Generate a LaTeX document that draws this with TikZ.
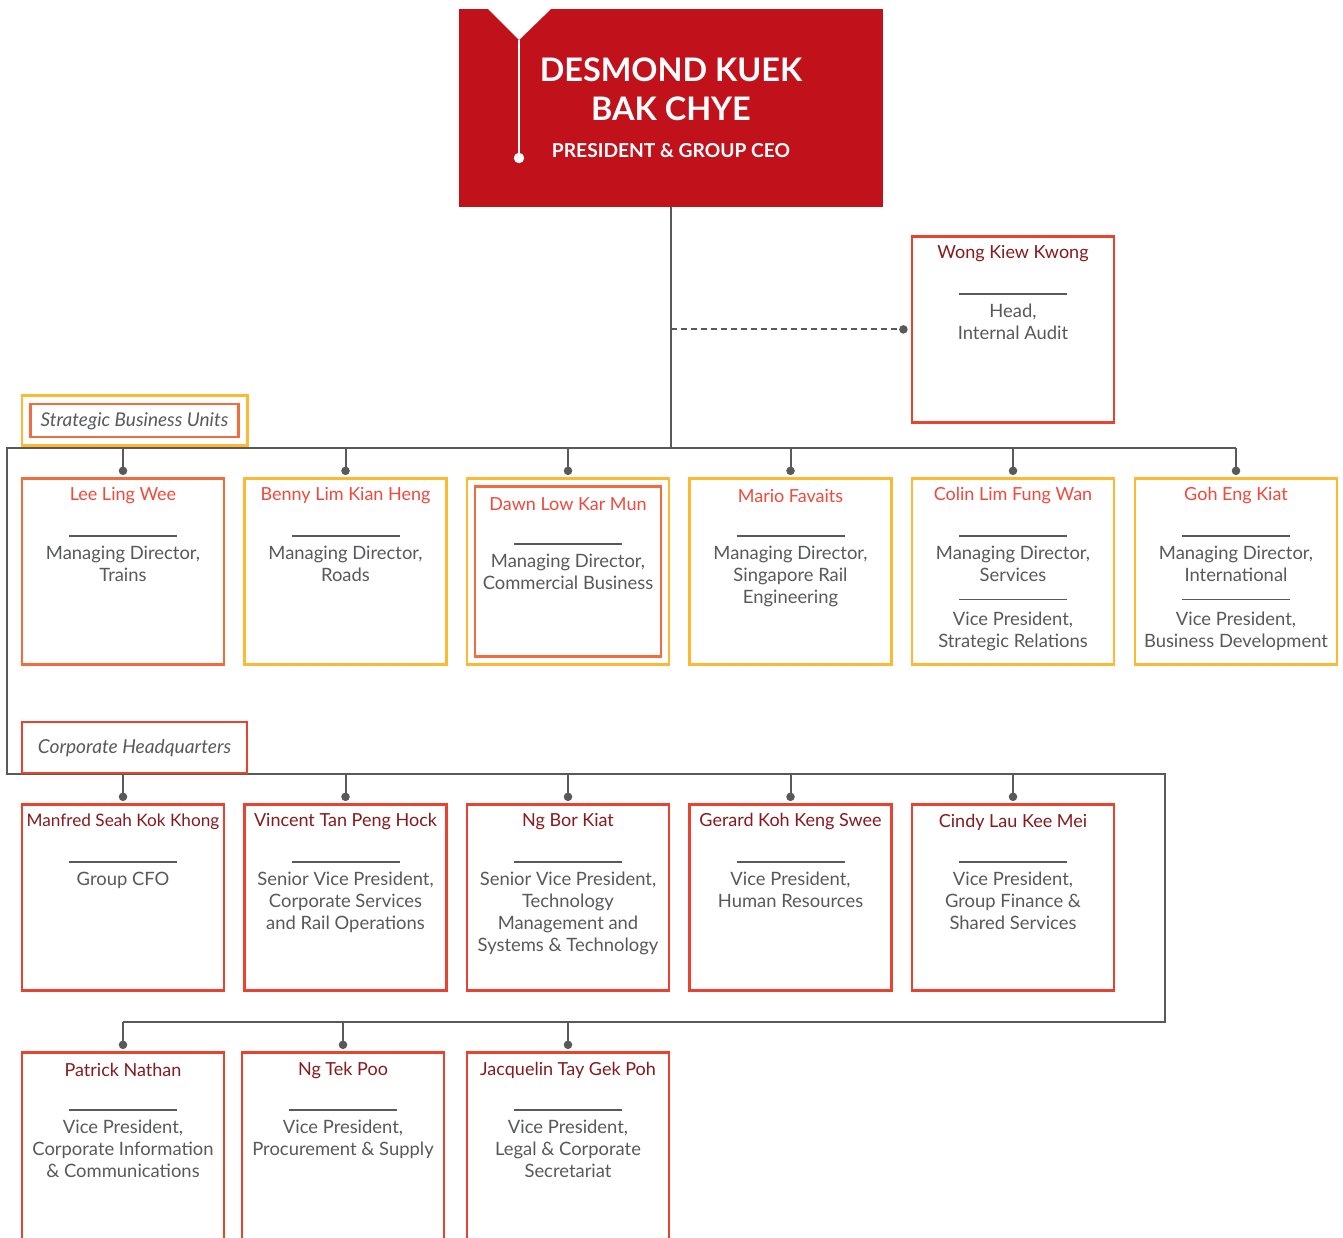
\documentclass[tikz,border=0pt]{standalone}
\usepackage{fontspec}
\setmainfont{Lato}
\usepackage{tikz}
\usetikzlibrary{arrows.meta,positioning}
\definecolor{ceored}{HTML}{C1121C}
\definecolor{boxred}{HTML}{E9422E}
\definecolor{sbuorange}{HTML}{F26D3D}
\definecolor{sbuyellow}{HTML}{FDB933}
\definecolor{namered}{HTML}{EF4A3C}
\definecolor{namedark}{HTML}{861A1E}
\definecolor{textgray}{HTML}{58595B}
\definecolor{linkgray}{HTML}{58595B}
\newcommand{\subrule}{{\color{linkgray}\rule[1.5pt]{54pt}{0.6pt}}}
% box: id, top centre, box style, name style, name, title
\newcommand{\orgbox}[6]{%
  \node[#3] (#1) at (#2) {};
  \node[#4] (#1-name) at ([yshift=-9.5pt]#1.north) {#5};
  \draw[rulestyle] ([shift={(-27pt,-29.5pt)}]#1.north) -- ([shift={(27pt,-29.5pt)}]#1.north);
  \node[titlestyle] (#1-title) at ([yshift=-34.5pt]#1.north) {#6};
}
\tikzset{
  link/.style={draw=linkgray, line width=1pt},
  drop/.style={link, -{Circle[length=4.2pt]}},
  rulestyle/.style={draw=linkgray, line width=0.6pt},
  box/.style={fill=white, line width=1.4pt, minimum width=101pt,
    minimum height=93pt, anchor=north, inner sep=0pt},
  sbubox/.style={box, draw=sbuyellow},
  sbuobox/.style={box, draw=sbuorange},
  chqbox/.style={box, draw=boxred},
  namesbu/.style={inner sep=0pt, text=namered, font=\fontsize{9}{11}\selectfont},
  namechq/.style={inner sep=0pt, text=namedark, font=\fontsize{9}{11}\selectfont},
  titlestyle/.style={anchor=north, inner sep=0pt, align=center, text=textgray,
    font=\fontsize{9.2}{10.9}\selectfont},
  grouplabel/.style={line width=1.4pt, text=textgray, inner sep=0pt,
    text depth=1pt, font=\fontsize{9.5}{11}\selectfont\itshape}
}
\begin{document}
\begin{tikzpicture}[x=0.5pt, y=-0.5pt]
  \useasboundingbox (0,0) rectangle (1343,1237);
  \clip (0,0) rectangle (1343,1237);
  % chief executive
  \node[fill=ceored, minimum width=212pt, minimum height=99pt, inner sep=0pt,
    text=white, align=center, font=\fontsize{16.2}{19.5}\selectfont\bfseries]
    (ceo) at (671,108)
    {DESMOND KUEK\\BAK CHYE\\[-1pt]{\fontsize{9.6}{12}\selectfont PRESIDENT \& GROUP CEO}};
  \fill[white] (487,8) -- (552,8) -- (519,40) -- cycle;
  \draw[white, line width=1.4pt] (519,40) -- (519,158);
  \fill[white] (519,158) circle (2.6pt);

  % buses
  \coordinate (busA) at (671,448);
  \coordinate (busA-left) at (7,448);
  \coordinate (busA-right) at (1236,448);
  \coordinate (busB-left) at (7,774);
  \coordinate (busB-right) at (1165,774);
  \coordinate (busC-right) at (1165,1022);
  \coordinate (busC-left) at (123,1022);
  \draw[link] (ceo.south) -- (busA);
  \draw[link] (busA-right) -- (busA-left) -- (busB-left) -- (busB-right)
    -- (busC-right) -- (busC-left);

  % internal audit
  \orgbox{wong}{1013,235}{chqbox}{namechq}{Wong Kiew Kwong}{Head,\\Internal Audit}
  \coordinate (auditjoin) at (ceo.south |- wong.west);
  \draw[link, dash pattern=on 3pt off 2pt, -{Circle[length=4.2pt]}]
    (auditjoin) -- ([xshift=-1.5pt]wong.west);

  % strategic business units
  \node[grouplabel, draw=sbuorange, minimum width=104pt, minimum height=16.5pt]
    (sbu) at (134.5,420.5) {Strategic Business Units};
  \draw[sbuyellow, line width=1.4pt] ([shift={(-3.6pt,3.6pt)}]sbu.north west)
    rectangle ([shift={(3.6pt,-3.6pt)}]sbu.south east);
  \orgbox{lee}{123,477}{sbuobox}{namesbu}{Lee Ling Wee}{Managing Director,\\Trains}
  \orgbox{benny}{345.5,477}{sbubox}{namesbu}{Benny Lim Kian Heng}{Managing Director,\\Roads}
  \node[sbubox] (dawn-frame) at (568,477) {};
  \orgbox{dawn}{568,485}{sbuobox, minimum width=93pt, minimum height=85pt}{namesbu}%
    {Dawn Low Kar Mun}{Managing Director,\\Commercial Business}
  \orgbox{mario}{790.5,477}{sbubox}{namesbu}{Mario Favaits}%
    {Managing Director,\\Singapore Rail\\Engineering}
  \orgbox{colin}{1013,477}{sbubox}{namesbu}{Colin Lim Fung Wan}%
    {Managing Director,\\Services\\\subrule\\Vice President,\\Strategic Relations}
  \orgbox{goh}{1236,477}{sbubox}{namesbu}{Goh Eng Kiat}%
    {Managing Director,\\International\\\subrule\\Vice President,\\Business Development}
  \foreach \b in {lee,benny,dawn-frame,mario,colin,goh}
    \draw[drop] (\b.north |- busA) -- ([yshift=1pt]\b.north);

  % corporate headquarters
  \node[grouplabel, draw=boxred, fill=white, minimum width=112.5pt, minimum height=25.5pt,
    font=\fontsize{9.6}{11}\selectfont\itshape]
    (chq) at (134.5,747.5) {Corporate Headquarters};
  \orgbox{manfred}{123,803}{chqbox}{namechq, font=\fontsize{8.6}{11}\selectfont}%
    {Manfred Seah Kok Khong}{Group CFO}
  \orgbox{vincent}{345.5,803}{chqbox}{namechq}{Vincent Tan Peng Hock}%
    {Senior Vice President,\\Corporate Services\\and Rail Operations}
  \orgbox{ngbk}{568,803}{chqbox}{namechq}{Ng Bor Kiat}%
    {Senior Vice President,\\Technology\\Management and\\Systems \& Technology}
  \orgbox{gerard}{790.5,803}{chqbox}{namechq}{Gerard Koh Keng Swee}%
    {Vice President,\\Human Resources}
  \orgbox{cindy}{1013,803}{chqbox}{namechq}{Cindy Lau Kee Mei}%
    {Vice President,\\Group Finance \&\\Shared Services}
  \foreach \b in {manfred,vincent,ngbk,gerard,cindy}
    \draw[drop] (\b.north |- busB-left) -- ([yshift=1pt]\b.north);

  \orgbox{patrick}{123,1051}{chqbox, minimum height=100pt}{namechq}{Patrick Nathan}%
    {Vice President,\\Corporate Information\\\& Communications}
  \orgbox{ngtp}{343,1051}{chqbox, minimum height=100pt}{namechq}{Ng Tek Poo}%
    {Vice President,\\Procurement \& Supply}
  \orgbox{jacquelin}{568,1051}{chqbox, minimum height=100pt}{namechq}{Jacquelin Tay Gek Poh}%
    {Vice President,\\Legal \& Corporate\\Secretariat}
  \foreach \b in {patrick,ngtp,jacquelin}
    \draw[drop] (\b.north |- busC-left) -- ([yshift=1pt]\b.north);
\end{tikzpicture}
\end{document}
